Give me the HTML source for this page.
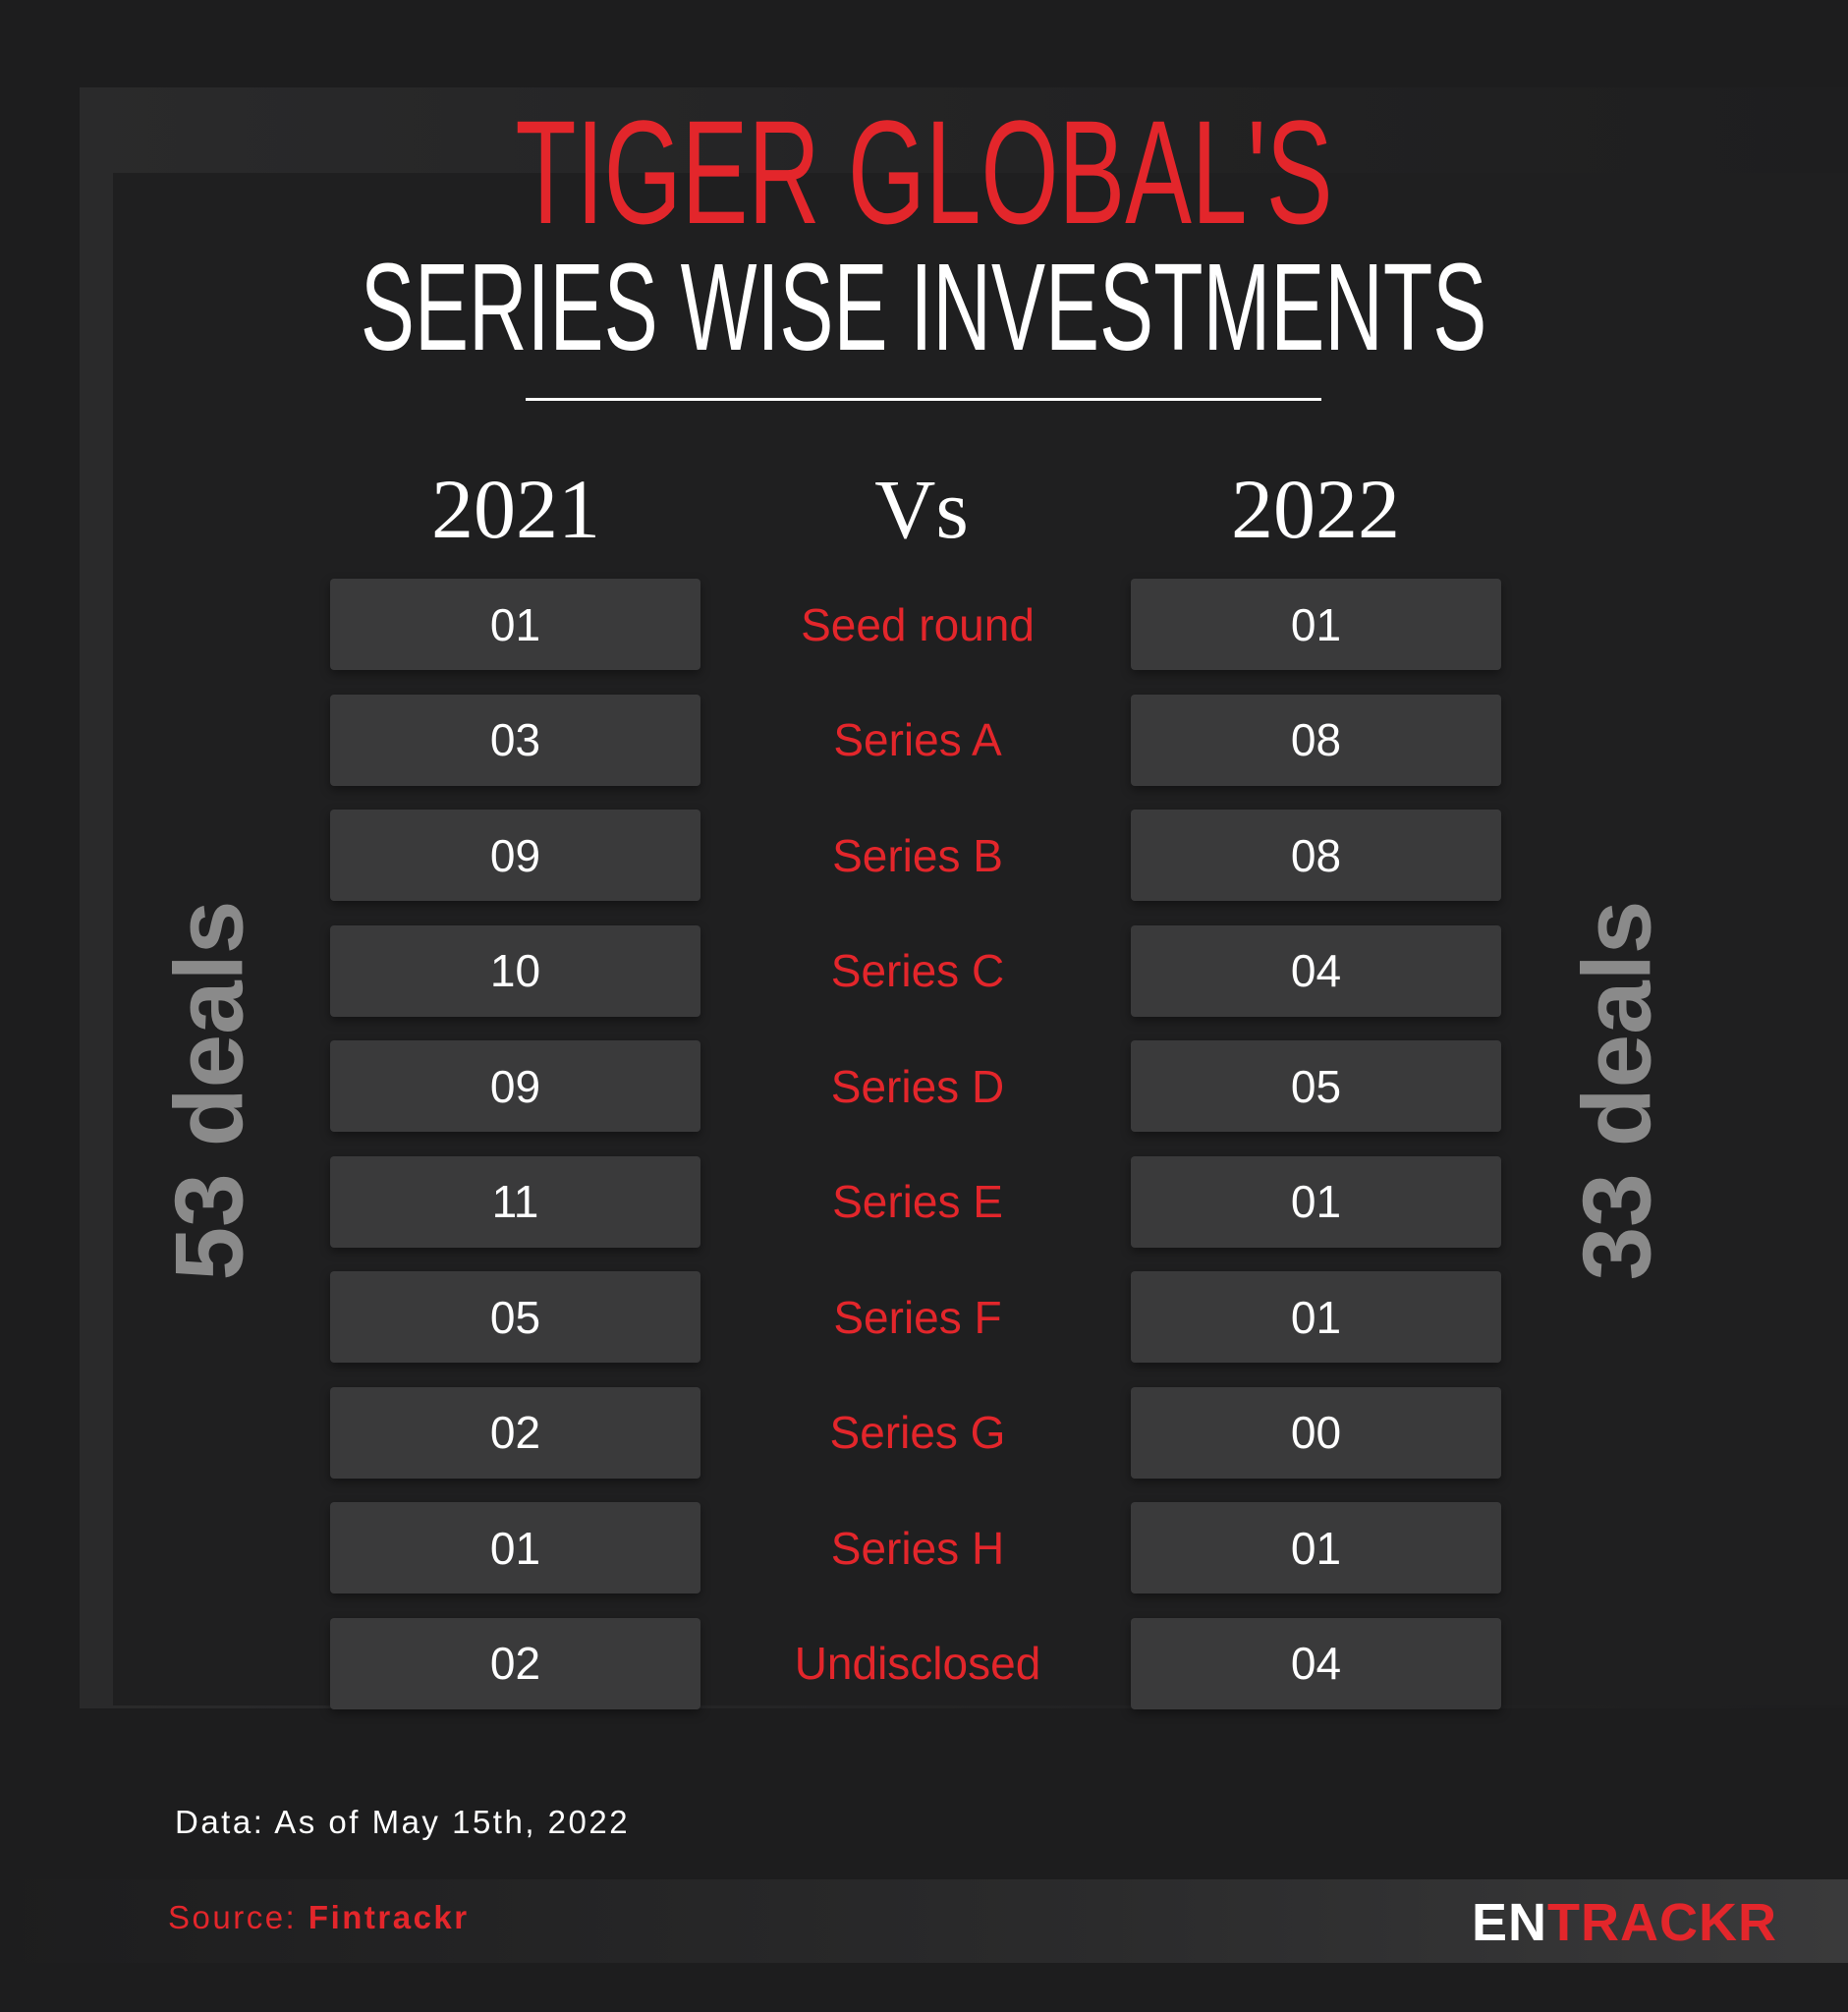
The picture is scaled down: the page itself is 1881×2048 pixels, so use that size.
<!DOCTYPE html>
<html><head><meta charset="utf-8"><style>
body{margin:0;width:1881px;height:2048px;background:#1d1d1e;overflow:hidden;position:relative;font-family:"Liberation Sans",sans-serif}
.abs{position:absolute}
.box{position:absolute;width:377px;height:93px;background:#3a3a3b;border-radius:4px;color:#fff;font-size:46px;display:flex;align-items:center;justify-content:center;box-shadow:0 4px 10px rgba(0,0,0,.4)}
.lab{position:absolute;left:734px;width:400px;height:93px;color:#e3262b;font-size:46px;display:flex;align-items:center;justify-content:center}
.yr{position:absolute;top:468px;font-family:"Liberation Serif",serif;color:#fff;font-size:86px;transform:translateX(-50%)}
.deals{position:absolute;color:#8a8a8a;font-size:98px;font-weight:bold;white-space:nowrap;transform:translate(-50%,-50%) rotate(-90deg)}
</style></head><body>
<div class="abs" style="left:81px;top:89px;width:1800px;height:1650px;background:linear-gradient(90deg,#2a2a2b,#222223 60%,#1e1e1f);"></div>
<div class="abs" style="left:115px;top:176px;width:1766px;height:1560px;background:#1f1f20;"></div>
<div class="abs" style="left:0;width:1881px;top:100px;text-align:center;color:#e3262b;font-size:150px;line-height:150px;"><span style="display:inline-block;transform:scaleX(.677)">TIGER GLOBAL'S</span></div>
<div class="abs" style="left:0;width:1881px;top:250px;text-align:center;color:#fff;font-size:126px;line-height:126px;"><span style="display:inline-block;transform:scaleX(.655)">SERIES WISE INVESTMENTS</span></div>
<div class="abs" style="left:535px;top:405px;width:810px;height:3px;background:#fff"></div>
<div class="yr" style="left:525px">2021</div>
<div class="yr" style="left:938px">Vs</div>
<div class="yr" style="left:1339px">2022</div>
<div class="deals" style="left:213px;top:1110px">53 deals</div>
<div class="deals" style="left:1646px;top:1110px">33 deals</div>
<div id="rows"></div>
<div class="abs" style="left:178px;top:1836px;color:#fff;font-size:33px;letter-spacing:2.5px">Data: As of May 15th, 2022</div>
<div class="abs" style="left:0;top:1913px;width:1881px;height:85px;background:linear-gradient(90deg,#1d1d1e,#2b2b2c 60%,#3a3a3b)"></div>
<div class="abs" style="left:171px;top:1933px;color:#e3262b;font-size:33px;letter-spacing:2.5px">Source: <b>Fintrackr</b></div>
<div class="abs" style="left:1498px;top:1926px;font-size:54px;font-weight:bold;color:#fff;letter-spacing:1px">EN<span style="color:#e3262b">TRACKR</span></div>
<script>
const categories=["Seed round","Series A","Series B","Series C","Series D","Series E","Series F","Series G","Series H","Undisclosed"];
const values2021=[1,3,9,10,9,11,5,2,1,2];
const values2022=[1,8,8,4,5,1,1,0,1,4];
const rows=document.getElementById('rows');
const fmt=v=>String(v).padStart(2,'0');
categories.forEach((c,i)=>{
  const y=589+i*117.5;
  const a=document.createElement('div');a.className='box';a.style.left='336px';a.style.top=y+'px';a.textContent=fmt(values2021[i]);
  
  
  const l=document.createElement('div');l.className='lab';l.style.top=y+'px';l.textContent=c;
  
  
  const b=document.createElement('div');b.className='box';b.style.left='1151px';b.style.top=y+'px';b.textContent=fmt(values2022[i]);
  
  
  rows.append(a,l,b);
});
</script>
</body></html>
